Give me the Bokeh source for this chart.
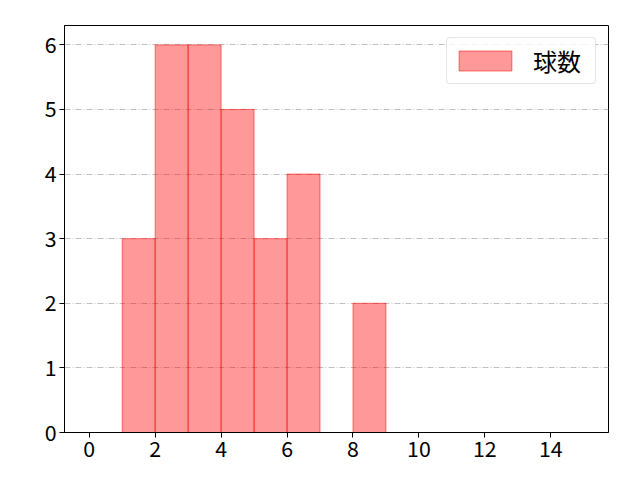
from bokeh.plotting import figure
from bokeh.models import Range1d, FixedTicker
from bokeh.embed import file_html
from bokeh.resources import INLINE

# histogram bins (left edge) and counts
bin_left = [1, 2, 3, 4, 5, 6, 8]
bin_width = 1
counts = [3, 6, 6, 5, 3, 4, 2]
x_ticks = [0, 2, 4, 6, 8, 10, 12, 14]
y_ticks = [0, 1, 2, 3, 4, 5, 6]
label = "球数"

font = "Noto Sans CJK JP"

p = figure(width=624, height=464, output_backend="svg", toolbar_location=None,
           x_range=Range1d(-0.75, 15.75), y_range=Range1d(0, 6.3),
           min_border_left=64, min_border_right=16, min_border_top=25, min_border_bottom=32)

right = [l + bin_width for l in bin_left]
p.quad(left=bin_left, right=right, top=counts, bottom=0,
       fill_color="red", fill_alpha=0.4, line_color="red", line_alpha=0.5,
       line_width=1, legend_label=label)

p.outline_line_color = "black"
p.outline_line_width = 1
p.xgrid.grid_line_color = None
p.ygrid.grid_line_color = "#b0b0b0"
p.ygrid.grid_line_dash = "6 2 1 2"
p.ygrid.grid_line_width = 0.8

for ax in (p.xaxis, p.yaxis):
    ax.major_label_text_font = font
    ax.major_label_text_font_size = "16pt"
    ax.major_label_text_color = "black"
    ax.major_label_standoff = 3
    ax.minor_tick_line_color = None
    ax.major_tick_in = 0
    ax.major_tick_out = 5
    ax.axis_line_color = "black"
    ax.major_tick_line_color = "black"
p.xaxis.ticker = FixedTicker(ticks=x_ticks)
p.yaxis.ticker = FixedTicker(ticks=y_ticks)

p.legend.location = "top_right"
p.legend.label_text_font = font
p.legend.label_text_font_size = "18pt"
p.legend.label_text_color = "black"
p.legend.label_height = 20
p.legend.label_width = 57
p.legend.glyph_width = 66
p.legend.glyph_height = 25
p.legend.border_line_color = "#cccccc"
p.legend.border_radius = 4
p.legend.margin = 12
p.legend.padding = 5
p.legend.spacing = 0
p.legend.label_standoff = 15
p.legend.background_fill_alpha = 0.8

open("out.html", "w").write(file_html(p, INLINE))
